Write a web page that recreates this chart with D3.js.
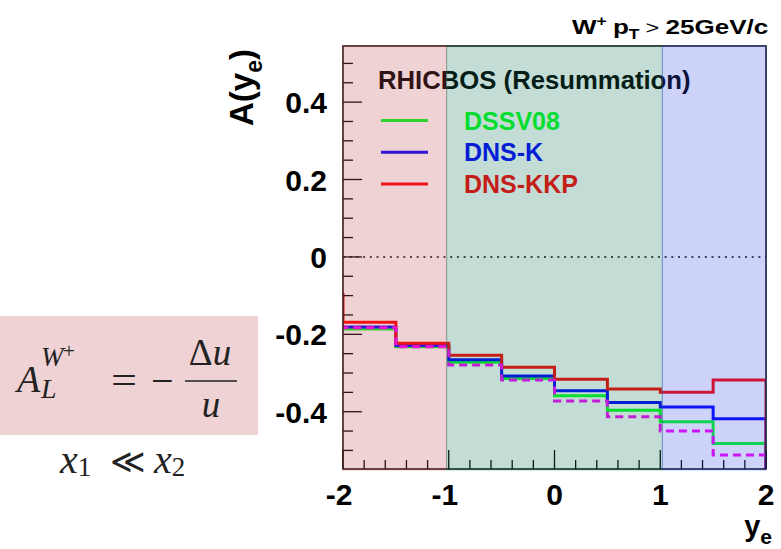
<!DOCTYPE html>
<html>
<head>
<meta charset="utf-8">
<script src="https://cdn.jsdelivr.net/npm/d3@7"></script>
<style>
  body { margin: 0; background: #fff; }
  svg { display: block; }
</style>
</head>
<body>
<div id="wrapper"></div>
<script>
// bins of 0.5 in y_e
const binEdges = [-2, -1.5, -1, -0.5, 0, 0.5, 1, 1.5, 2]
const dssv08 = [-0.186, -0.232, -0.272, -0.314, -0.359, -0.396, -0.426, -0.482]
const dnsK = [-0.181, -0.229, -0.266, -0.308, -0.346, -0.376, -0.388, -0.418]
const dnsKKP = [-0.169, -0.223, -0.254, -0.285, -0.316, -0.341, -0.350, -0.318]
const dashed = [-0.183, -0.232, -0.279, -0.318, -0.372, -0.413, -0.450, -0.512]
// value the step comes from at the left edge, and goes to at the right edge
const edgeIn = { dssv08: -0.175, dnsK: -0.178, dnsKKP: -0.093, dashed: -0.176 }
const edgeOut = -0.6

const regionEdges = [-2, -1.02, 1.02, 2]
const xTicks = [-2, -1, 0, 1, 2]
const yTicks = [-0.4, -0.2, 0, 0.2, 0.4]
const legendNames = ["DSSV08", "DNS-K", "DNS-KKP"]

async function drawChart() {
    let dimensions = {
        width: 781,
        height: 549,
        margin: { top: 46, right: 15, bottom: 80, left: 343 },
    }
    dimensions.boundedWidth = dimensions.width - dimensions.margin.left - dimensions.margin.right
    dimensions.boundedHeight = dimensions.height - dimensions.margin.top - dimensions.margin.bottom

    const svg = d3.select("#wrapper")
        .append("svg")
        .attr("width", dimensions.width)
        .attr("height", dimensions.height)
        .style("font-family", "'Liberation Sans', Arial, sans-serif")

    const bounds = svg.append("g")
        .attr("transform", `translate(${dimensions.margin.left}, ${dimensions.margin.top})`)

    const xScale = d3.scaleLinear()
        .domain([-2, 2])
        .range([0, 423])
    const yScale = d3.scaleLinear()
        .domain([-0.548, 0.545])
        .range([dimensions.boundedHeight, 0])

    svg.append("defs").append("clipPath").attr("id", "frame")
        .append("rect")
        .attr("width", xScale(2)).attr("height", dimensions.boundedHeight)

    // formula box on the left
    const formula = svg.append("g")
        .style("font-family", "'Liberation Serif', 'DejaVu Serif', serif")
        .attr("fill", "#222")
    formula.append("rect")
        .attr("x", 0).attr("y", 316).attr("width", 258).attr("height", 119)
        .attr("fill", "#efd2d4")
    formula.append("text").attr("x", 17).attr("y", 392)
        .style("font-style", "italic").style("font-size", "38px").text("A")
    formula.append("text").attr("x", 41).attr("y", 366)
        .style("font-style", "italic").style("font-size", "27px").text("W")
    formula.append("text").attr("x", 63).attr("y", 358)
        .style("font-size", "21px").text("+")
    formula.append("text").attr("x", 41).attr("y", 398)
        .style("font-style", "italic").style("font-size", "28px").text("L")
    formula.append("text").attr("x", 111).attr("y", 394)
        .attr("textLength", 26).attr("lengthAdjust", "spacingAndGlyphs")
        .style("font-size", "40px").text("=")
    formula.append("text").attr("x", 151).attr("y", 394)
        .style("font-size", "40px").text("\u2212")
    formula.append("text").attr("x", 210).attr("y", 365).attr("text-anchor", "middle")
        .style("font-size", "37px")
        .call(t => t.append("tspan").text("\u0394"))
        .call(t => t.append("tspan").style("font-style", "italic").text("u"))
    formula.append("line")
        .attr("x1", 185).attr("x2", 237).attr("y1", 381).attr("y2", 381)
        .attr("stroke", "#222").attr("stroke-width", 1.6)
    formula.append("text").attr("x", 211).attr("y", 417).attr("text-anchor", "middle")
        .style("font-style", "italic").style("font-size", "37px").text("u")

    const xx = svg.append("text").attr("y", 473)
        .style("font-family", "'Liberation Serif', 'DejaVu Serif', serif")
        .attr("fill", "#222")
    xx.append("tspan").attr("x", 60).style("font-style", "italic").style("font-size", "40px").text("x")
    xx.append("tspan").attr("dy", 3).style("font-size", "27px").text("1")
    xx.append("tspan").attr("x", 110).attr("dy", -3).style("font-family", "'DejaVu Serif', serif").style("font-size", "34px").text("\u226A")
    xx.append("tspan").attr("x", 154).style("font-style", "italic").style("font-size", "40px").text("x")
    xx.append("tspan").attr("dy", 3).style("font-size", "27px").text("2")

    // zero line
    bounds.append("line")
        .attr("x1", 0).attr("x2", xScale(2))
        .attr("y1", yScale(0)).attr("y2", yScale(0))
        .attr("stroke", "#000").attr("stroke-width", 1.5)
        .attr("stroke-dasharray", "2 4.7")

    // histograms
    const stepPath = (values, start) => {
        const pts = [[xScale(binEdges[0]), yScale(start)]]
        values.forEach((v, i) => {
            pts.push([xScale(binEdges[i]), yScale(v)])
            pts.push([xScale(binEdges[i + 1]), yScale(v)])
        })
        pts.push([xScale(binEdges[binEdges.length - 1]), yScale(edgeOut)])
        return d3.line()(pts)
    }

    const series = [
        { values: dssv08, start: edgeIn.dssv08, color: "#00ff22", dash: null },
        { values: dnsK, start: edgeIn.dnsK, color: "#0000ff", dash: null },
        { values: dnsKKP, start: edgeIn.dnsKKP, color: "#ff0000", dash: null },
        { values: dashed, start: edgeIn.dashed, color: "#ff00ff", dash: "8 5" },
    ]

    bounds.append("g")
        .attr("clip-path", "url(#frame)")
        .selectAll("path")
        .data(series)
        .join("path")
        .attr("d", d => stepPath(d.values, d.start))
        .attr("fill", "none")
        .attr("stroke", d => d.color)
        .attr("stroke-width", 3)
        .attr("stroke-dasharray", d => d.dash)

    // ticks
    const ticksG = bounds.append("g").attr("stroke", "#000").attr("stroke-width", 1.3)
    const xMinor = d3.range(-2, 2.001, 0.2).map(d => +d.toFixed(2))
    ticksG.selectAll(".xt")
        .data(xMinor)
        .join("line")
        .attr("x1", d => xScale(d)).attr("x2", d => xScale(d))
        .attr("y1", dimensions.boundedHeight)
        .attr("y2", d => dimensions.boundedHeight - (xTicks.includes(d) ? 19 : 9))
    const yMinor = d3.range(-0.55, 0.551, 0.05).map(d => +d.toFixed(2)).filter(d => d >= -0.548 && d <= 0.545)
    ticksG.selectAll(".yt")
        .data(yMinor)
        .join("line")
        .attr("x1", 0)
        .attr("x2", d => yTicks.some(t => Math.abs(t - d) < 1e-6) ? 19 : 10)
        .attr("y1", d => yScale(d)).attr("y2", d => yScale(d))

    // frame
    bounds.append("rect")
        .attr("width", xScale(2)).attr("height", dimensions.boundedHeight)
        .attr("fill", "none").attr("stroke", "#000").attr("stroke-width", 1.5)

    // legend
    const legend = bounds.append("g")
    legend.append("text")
        .attr("x", 35).attr("y", 43)
        .style("font-size", "25.7px").style("font-weight", "bold")
        .attr("fill", "#000")
        .text("RHICBOS (Resummation)")
    const legendRows = legend.selectAll(".row")
        .data(series.slice(0, 3))
        .join("g")
        .attr("transform", (d, i) => `translate(0, ${74.5 + i * 31.7})`)
    legendRows.append("line")
        .attr("x1", 38).attr("x2", 85)
        .attr("stroke", d => d.color).attr("stroke-width", 3)
    legendRows.append("text")
        .attr("x", 121).attr("y", 9)
        .style("font-size", "25px").style("font-weight", "bold")
        .attr("fill", d => d.color)
        .text((d, i) => legendNames[i])

    // coloured bands over everything inside the frame
    const bandColors = ["rgb(191,75,83)", "rgb(15,119,91)", "rgb(55,79,227)"]
    bounds.append("g")
        .selectAll("rect")
        .data(d3.pairs(regionEdges))
        .join("rect")
        .attr("x", d => xScale(d[0]))
        .attr("width", d => xScale(d[1]) - xScale(d[0]))
        .attr("y", 0)
        .attr("height", dimensions.boundedHeight + 1)
        .attr("fill", (d, i) => bandColors[i])
        .attr("fill-opacity", 0.25)
        .attr("stroke", (d, i) => bandColors[i])
        .attr("stroke-opacity", 0.35)
        .attr("stroke-width", 1)

    // tick labels
    bounds.append("g")
        .selectAll("text")
        .data(xTicks)
        .join("text")
        .attr("x", d => xScale(d) + (d < 0 ? -4 : 0))
        .attr("y", dimensions.boundedHeight + 36)
        .attr("text-anchor", "middle")
        .style("font-size", "30px").style("font-weight", "bold")
        .text(d => d)

    bounds.append("g")
        .selectAll("text")
        .data(yTicks)
        .join("text")
        .attr("x", -16)
        .attr("y", d => yScale(d) + 11)
        .attr("text-anchor", "end")
        .style("font-size", "30px").style("font-weight", "bold")
        .text(d => d3.format("")(d).replace("\u2212", "-"))

    // axis titles
    const xTitle = svg.append("text")
        .attr("x", 772).attr("y", 536)
        .attr("text-anchor", "end")
        .style("font-size", "29px").style("font-weight", "bold")
    xTitle.append("tspan").text("y")
    xTitle.append("tspan").attr("dy", 8).style("font-size", "21px").text("e")

    const yTitle = svg.append("text")
        .attr("transform", "translate(253, 49) rotate(-90)")
        .attr("text-anchor", "end")
        .style("font-size", "33px").style("font-weight", "bold")
    yTitle.append("tspan").text("A(y")
    yTitle.append("tspan").attr("dy", 9).style("font-size", "23px").text("e")
    yTitle.append("tspan").attr("dy", -9).text(")")

    // cut label
    const title = svg.append("text")
        .attr("transform", "translate(572, 34) scale(1.24, 1)")
        .style("font-weight", "bold").style("font-size", "21px")
    title.append("tspan").text("W")
    title.append("tspan").attr("dy", -8).style("font-size", "14px").text("+")
    title.append("tspan").attr("dy", 8).attr("dx", 5).text("p")
    title.append("tspan").attr("dy", 5).style("font-size", "14px").text("T")
    title.append("tspan").attr("dy", -5).attr("dx", 5).style("font-weight", "normal").style("font-size", "19px").text(">")
    title.append("tspan").attr("dx", 5).text("25GeV/c")
}

drawChart()
</script>
</body>
</html>
